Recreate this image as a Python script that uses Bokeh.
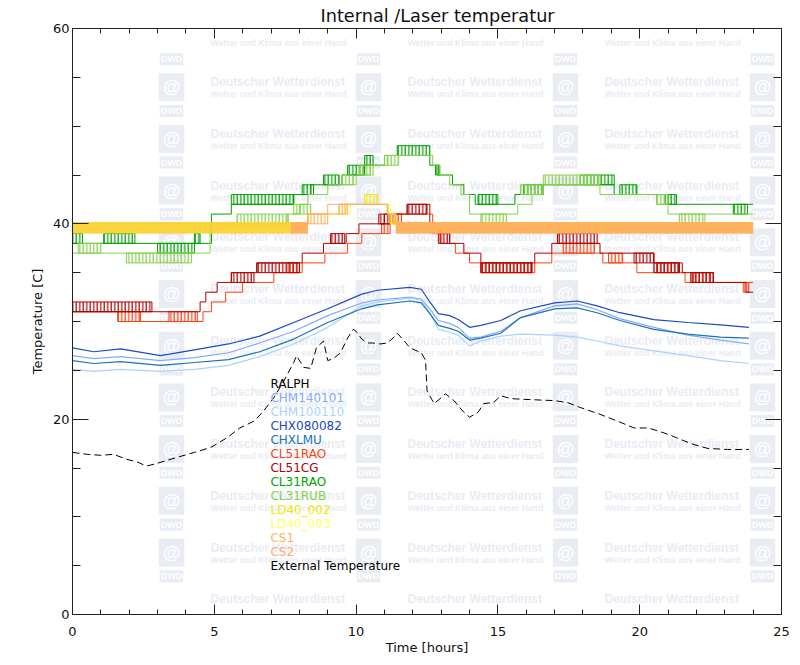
from bokeh.plotting import figure
from bokeh.models import Range1d, LinearAxis, SingleIntervalTicker, Label, ColumnDataSource
from bokeh.core.properties import value
from bokeh.embed import file_html
from bokeh.resources import INLINE

TITLE = "Internal /Laser temperatur"
X_LABEL = "Time [hours]"
Y_LABEL = "Temperature [C]"

# ---------------- smooth series (CHM / CHX) ----------------
BLUE_T = [0, 0.75, 1.7, 3.1, 4.3, 5.5, 6.6, 7.8, 9.0, 10.2, 10.75, 11.9, 12.3, 12.6, 12.9,
          13.3, 13.6, 14.0, 14.4, 15.1, 15.8, 17.0, 17.8, 18.5, 19.3, 20.5, 21.7, 22.85, 23.85]
CHX080082 = [27.3, 26.9, 27.2, 26.5, 27.1, 27.7, 28.5, 29.9, 31.3, 32.8, 33.2, 33.5, 33.3, 32.0, 30.8,
             30.6, 30.2, 29.4, 29.6, 30.1, 31.1, 31.9, 32.1, 31.6, 30.9, 30.2, 29.9, 29.65, 29.4]
CHM140101 = [26.5, 26.2, 26.4, 26.0, 26.3, 26.8, 27.8, 29.0, 30.6, 31.9, 32.2, 32.5, 32.3, 31.3, 30.1,
             29.8, 29.4, 28.3, 28.4, 29.0, 30.4, 31.6, 31.8, 31.2, 30.3, 29.4, 28.6, 28.1, 27.7]
CHXLMU = [26.0, 25.7, 25.9, 25.5, 25.8, 26.1, 26.9, 28.2, 29.9, 31.3, 31.7, 32.1, 31.9, 30.8, 29.6,
          29.3, 29.0, 28.1, 28.3, 28.8, 30.4, 31.3, 31.4, 30.9, 30.1, 29.2, 28.7, 28.4, 28.3]
CHM100110 = [25.1, 24.9, 25.1, 24.9, 25.1, 25.5, 26.4, 27.7, 29.4, 31.6, 32.0, 32.4, 32.2, 30.9, 29.2,
             28.9, 28.6, 27.5, 28.0, 28.5, 28.7, 28.6, 28.4, 28.0, 27.5, 27.0, 26.5, 26.0, 25.7]

# ---------------- external temperature ----------------
EXT_T = [0, 0.5, 1.0, 1.45, 1.9, 2.3, 2.6, 2.9, 3.7, 4.3, 4.87, 5.45, 5.9, 6.4, 6.7, 7.1, 7.45, 7.8,
         7.9, 8.15, 8.4, 8.6, 8.85, 9.0, 9.2, 9.45, 9.7, 9.9, 10.0, 10.2, 10.4, 10.6, 10.85, 11.1,
         11.3, 11.45, 11.7, 11.9, 12.3, 12.45, 12.5, 12.75, 13.0, 13.15, 13.45, 13.8, 14.0, 14.3,
         14.5, 14.85, 15.1, 15.45, 16.15, 17.0, 17.45, 17.9, 18.6, 19.3, 19.8, 20.3, 20.85, 21.3,
         21.8, 22.4, 23.1, 23.85]
EXT_V = [16.6, 16.4, 16.3, 16.4, 15.9, 15.6, 15.2, 15.4, 16.1, 16.6, 17.1, 18.1, 19.1, 19.8, 20.7,
         22.2, 23.9, 25.8, 26.5, 25.3, 25.2, 27.3, 28.0, 26.0, 26.2, 26.8, 28.3, 29.2, 29.0, 28.2,
         27.8, 27.8, 27.7, 27.8, 28.3, 28.8, 28.0, 27.3, 26.8, 26.0, 22.9, 21.6, 22.2, 22.6, 21.9,
         20.7, 20.2, 20.7, 21.6, 21.7, 22.4, 22.1, 22.0, 21.9, 21.7, 21.2, 20.5, 19.7, 19.1, 19.1,
         18.6, 18.1, 17.5, 17.0, 16.9, 16.9]

# ---------------- stepped ceilometer series ----------------
# step levels (value holds from each time until the next)
CL51RAO_T = [0, 1.6, 4.6, 4.9, 5.4, 6.0, 7.1, 8.1, 8.9, 9.7, 10.2, 10.9, 11.2, 12.7, 13.0, 13.5, 14.0,
             14.4, 16.3, 16.9, 18.7, 19.9, 21.6, 22.7, 24]
CL51RAO_V = [31, 30, 31, 32, 33, 34, 35, 36, 37, 38, 39, 40, 41, 39, 38, 37, 36,
             35, 36, 37, 36, 35, 34, 34, 34]
CL51CG_T = [0, 4.5, 4.7, 5.1, 5.6, 6.5, 8.1, 8.85, 9.65, 10.1, 11.0, 11.8, 12.6, 12.9, 13.3, 13.8,
            14.4, 16.3, 16.9, 18.6, 20.5, 21.5, 22.6, 23.75, 24]
CL51CG_V = [31, 32, 33, 34, 35, 36, 37, 38, 39, 40, 41, 42, 40, 39, 38, 37,
            36, 37, 38, 37, 36, 35, 34, 33, 33]
CL31RAO_T = [0, 4.9, 5.6, 7.8, 8.4, 9.5, 10.3, 11.0, 12.6, 12.9, 13.4, 13.8, 14.2, 15.6, 16.6,
             19.1, 20.9, 24]
CL31RAO_V = [38, 41, 42, 43, 44, 45, 46, 47, 46, 45, 44, 43, 42, 43, 44, 43, 42, 42]
CL31RUB_T = [0, 4.85, 7.6, 8.0, 8.3, 9.0, 10.0, 10.5, 11.1, 12.7, 12.95, 13.3, 13.7, 14.0, 15.7,
             16.2, 16.6, 18.6, 20.6, 21.0, 24]
CL31RUB_V = [37, 40, 41, 42, 43, 44, 45, 46, 47, 46, 45, 44, 43, 41, 42,
             43, 44, 43, 42, 41, 41]
LD40_002_T = [0, 8.3, 9.6, 11.15, 11.4, 24]
LD40_002_V = [40, 41, 42, 41, 40, 40]
LD40_003_T = [0, 8.4, 9.8, 11.2, 11.4, 24]
LD40_003_V = [40, 41, 42, 41, 40, 40]
CS1_T = [0, 8.3, 9.4, 11.1, 11.4, 24]
CS1_V = [40, 41, 42, 41, 40, 40]
CS2_T = [0, 8.3, 9.0, 11.1, 11.4, 24]
CS2_V = [40, 41, 42, 41, 40, 40]

# flicker intervals: (start, end, lower level) -> values toggling between level and level+1
CL51RAO_FLICK = [(1.6, 2.4, 30), (3.4, 4.4, 30), (7.6, 8.0, 35), (10.9, 11.2, 39), (11.3, 11.6, 40),
                 (14.4, 16.2, 35), (17.3, 18.4, 37), (18.9, 19.4, 36), (20.6, 21.4, 35),
                 (21.9, 22.5, 34), (23.65, 23.85, 33)]
CL51CG_FLICK = [(0.0, 2.8, 31), (5.6, 6.4, 34), (6.5, 8.0, 35), (9.1, 9.6, 38), (10.8, 11.2, 40),
                (11.8, 12.5, 41), (12.9, 13.3, 38), (14.4, 16.2, 35), (17.1, 18.5, 38),
                (19.8, 20.5, 36), (20.5, 21.4, 35), (21.8, 22.6, 34)]
CL31RAO_FLICK = [(0.0, 0.35, 38), (1.1, 2.2, 38), (4.3, 4.5, 38), (3.0, 4.3, 37), (5.6, 7.8, 42),
                 (8.1, 8.5, 43), (8.85, 9.4, 44), (9.7, 10.3, 45), (10.3, 10.6, 46), (11.45, 12.6, 47),
                 (12.8, 12.95, 45), (14.3, 15.0, 42), (15.9, 16.6, 43), (17.9, 19.1, 44),
                 (19.3, 19.9, 43), (21.0, 21.3, 42), (23.3, 23.8, 41)]
CL31RUB_FLICK = [(0.2, 1.0, 37), (1.9, 4.2, 36), (5.8, 7.6, 40), (7.8, 8.4, 41), (9.5, 9.9, 44),
                 (10.1, 10.6, 45), (11.0, 11.5, 46), (14.4, 15.3, 40), (15.8, 16.6, 43),
                 (16.6, 18.6, 44), (20.6, 21.0, 42), (21.4, 22.3, 40)]
LD40_002_FLICK = [(10.3, 10.75, 42), (11.2, 11.4, 40)]
LD40_003_FLICK = []
CS1_FLICK = [(8.3, 9.0, 40), (9.4, 9.7, 41)]
CS2_FLICK = []

# very fast toggling (appears as a solid band): (start, end, lower level)
LD40_002_BAND = [(0.0, 7.7, 39)]
LD40_003_BAND = [(0.0, 7.7, 39)]
CS1_BAND = [(0.0, 8.3, 39), (11.4, 24.0, 39)]
CS2_BAND = [(7.7, 8.3, 39), (11.4, 24.0, 39)]

LEGEND_NAMES = ["RALPH", "CHM140101", "CHM100110", "CHX080082", "CHXLMU", "CL51RAO", "CL51CG",
                "CL31RAO", "CL31RUB", "LD40_002", "LD40_003", "CS1", "CS2", "External Temperature"]
LEGEND_COLORS = ["#000000", "#86a8ff", "#a8d2ff", "#1a48c8", "#1a74b0", "#ff4010", "#b00000",
                 "#00a000", "#86d04c", "#f4e800", "#ffff66", "#ffb458", "#ffa878", "#000000"]
COL = dict(zip(LEGEND_NAMES, LEGEND_COLORS))

W, H = 800, 665
FRAME_L, FRAME_R, FRAME_T, FRAME_B = 72, 781, 26, 614
FONT = "DejaVu Sans"

p = figure(width=W, height=H, x_range=Range1d(0, 25), y_range=Range1d(0, 60),
           output_backend="svg", toolbar_location=None,
           min_border_left=FRAME_L, min_border_right=W - FRAME_R,
           min_border_top=FRAME_T, min_border_bottom=H - FRAME_B)
p.grid.visible = False
p.outline_line_color = "#222222"
p.background_fill_color = "white"
p.border_fill_color = "white"

# ---- watermark (background decoration; only the pieces that lie fully inside the frame) ----
WM = "#e9ecf3"


def wm_label(X, Y, text, size, color, bg=None, pad=0, align="left"):
    # annotation screen units are relative to the frame's bottom-left corner
    p.add_layout(Label(x=X - FRAME_L, y=FRAME_B - Y, x_units="screen", y_units="screen", text=text,
                       text_font="Liberation Sans", text_font_style="bold", text_font_size=size,
                       text_color=color, text_align=align, text_baseline="middle",
                       background_fill_color=bg, padding=pad, level="underlay"))


for c in range(4):
    xl = 13 + 197 * c
    xg = 171 + 197 * c
    for r in range(13):
        yr = 30 + 51.7 * r
        if xl > FRAME_L + 2:
            if FRAME_T + 8 < yr < FRAME_B - 8:
                wm_label(xl, yr, "Deutscher Wetterdienst", "12px", WM)
            if FRAME_T + 6 < yr + 12 < FRAME_B - 6:
                wm_label(xl, yr + 12, "Wetter und Klima aus einer Hand", "8.7px", WM)
        if FRAME_T + 16 < yr + 5 < FRAME_B - 16:
            wm_label(xg, yr + 5, "@", "18px", "white", bg=WM, pad=4, align="center")
        if FRAME_T + 8 < yr - 23 < FRAME_B - 8:
            wm_label(xg, yr - 23, "DWD", "9px", "white", bg=WM, pad=1, align="center")

# ---- smooth series ----
for name, vals in (("CHM140101", CHM140101), ("CHM100110", CHM100110),
                   ("CHX080082", CHX080082), ("CHXLMU", CHXLMU)):
    p.line(BLUE_T, vals, line_color=COL[name], line_width=1.2)

# ---- stepped series: step lines and flicker zones ----
STEPPED = [
    ("CL51RAO", CL51RAO_T, CL51RAO_V, CL51RAO_FLICK),
    ("CL51CG", CL51CG_T, CL51CG_V, CL51CG_FLICK),
    ("CL31RAO", CL31RAO_T, CL31RAO_V, CL31RAO_FLICK),
    ("CL31RUB", CL31RUB_T, CL31RUB_V, CL31RUB_FLICK),
    ("LD40_002", LD40_002_T, LD40_002_V, LD40_002_FLICK),
    ("LD40_003", LD40_003_T, LD40_003_V, LD40_003_FLICK),
    ("CS1", CS1_T, CS1_V, CS1_FLICK),
    ("CS2", CS2_T, CS2_V, CS2_FLICK),
]
for name, T, V, flick in STEPPED:
    col = COL[name]
    p.step(T, V, mode="after", line_color=col, line_width=1)
    if flick:
        p.quad(left=[f[0] for f in flick], right=[f[1] for f in flick],
               bottom=[f[2] for f in flick], top=[f[2] + 1 for f in flick],
               fill_alpha=0, line_color=col, line_width=1,
               hatch_pattern="|", hatch_color=col, hatch_scale=3.5, hatch_weight=1.2)

# ---- solid bands (very fast toggling), orange beneath, yellow blended on top ----
for name, band, alpha in (("CS2", CS2_BAND, 1.0), ("CS1", CS1_BAND, 0.85),
                          ("LD40_003", LD40_003_BAND, 0.15), ("LD40_002", LD40_002_BAND, 0.42)):
    p.quad(left=[b[0] for b in band], right=[b[1] for b in band],
           bottom=[b[2] for b in band], top=[b[2] + 1.2 for b in band],
           fill_color=COL[name], fill_alpha=alpha, line_color=None)

# ---- external temperature ----
p.line(EXT_T, EXT_V, line_color="black", line_width=1, line_dash="7 4")

# ---- legend (coloured text) ----
leg = ColumnDataSource(dict(x=[6.98] * len(LEGEND_NAMES),
                            y=[23.65 - 1.44 * i for i in range(len(LEGEND_NAMES))],
                            text=LEGEND_NAMES, color=LEGEND_COLORS))
p.text(x="x", y="y", text="text", text_color="color", source=leg, text_font=value(FONT),
       text_font_size="12px", text_baseline="middle", text_align="left")


# ---- axes ----
def style(ax, major_in, minor_in, labels=True):
    ax.major_tick_in = major_in
    ax.major_tick_out = 0
    ax.minor_tick_in = minor_in
    ax.minor_tick_out = 0
    ax.axis_line_color = "#222222"
    ax.major_tick_line_color = "#222222"
    ax.minor_tick_line_color = "#222222"
    ax.major_label_text_font = FONT
    if labels:
        ax.major_label_text_font_size = "13px"
        ax.major_label_text_color = "#111111"
    else:
        ax.major_label_text_font_size = "1px"
        ax.major_label_text_color = None
        ax.major_label_standoff = 0
    ax.axis_label_text_font = FONT
    ax.axis_label_text_font_style = "normal"
    ax.axis_label_text_font_size = "13px"
    ax.axis_label_text_color = "#111111"


p.xaxis.ticker = SingleIntervalTicker(interval=5, num_minor_ticks=5)
p.yaxis.ticker = SingleIntervalTicker(interval=20, num_minor_ticks=4)
style(p.xaxis[0], 10, 5)
style(p.yaxis[0], 16, 8)
p.xaxis.axis_label = X_LABEL
p.yaxis.axis_label = Y_LABEL
p.xaxis.major_label_standoff = 12
p.yaxis.major_label_standoff = 3
p.xaxis.axis_label_standoff = 1
p.yaxis.axis_label_standoff = 5

top = LinearAxis(ticker=SingleIntervalTicker(interval=5, num_minor_ticks=5))
style(top, 10, 5, labels=False)
p.add_layout(top, "above")
right = LinearAxis(ticker=SingleIntervalTicker(interval=20, num_minor_ticks=4))
style(right, 16, 8, labels=False)
p.add_layout(right, "right")

p.title.text = TITLE
p.title.align = "left"
p.title.offset = 248
p.title.standoff = 6
p.title.text_font = FONT
p.title.text_font_style = "normal"
p.title.text_font_size = "17.7px"
p.title.text_color = "#111111"

open("out.html", "w").write(file_html(p, INLINE))
